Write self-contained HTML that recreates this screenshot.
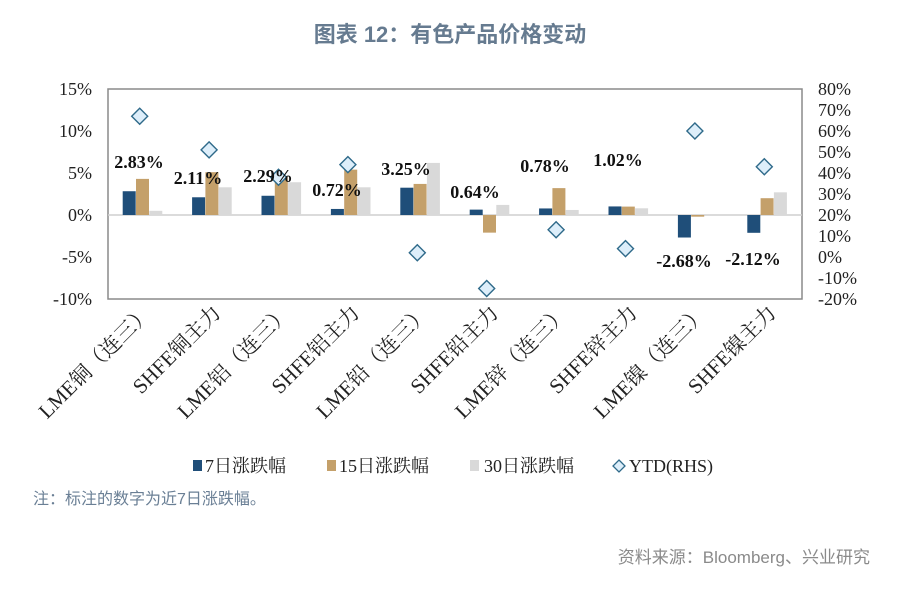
<!DOCTYPE html>
<html><head><meta charset="utf-8"><style>
body{margin:0;background:#fff;}
svg text{font-family:"Liberation Serif","Noto Serif CJK SC",serif;}
.s{font-family:"Liberation Sans","Noto Sans CJK SC",sans-serif !important;}
</style></head><body>
<svg width="900" height="586" xmlns="http://www.w3.org/2000/svg">
<text x="450" y="42" text-anchor="middle" class="s" font-size="22" font-weight="bold" fill="#667b90">图表 12：有色产品价格变动</text>
<rect x="108" y="89" width="694" height="210" fill="none" stroke="#8a8a8a" stroke-width="1.5"/>
<line x1="108" y1="215" x2="802" y2="215" stroke="#cfcfcf" stroke-width="1.5"/>
<g font-size="18" fill="#222" text-anchor="end">
<text x="92" y="95">15%</text><text x="92" y="137">10%</text><text x="92" y="179">5%</text><text x="92" y="221">0%</text><text x="92" y="263">-5%</text><text x="92" y="305">-10%</text>
</g>
<g font-size="18" fill="#222">
<text x="818" y="95">80%</text><text x="818" y="116">70%</text><text x="818" y="137">60%</text><text x="818" y="158">50%</text><text x="818" y="179">40%</text><text x="818" y="200">30%</text><text x="818" y="221">20%</text><text x="818" y="242">10%</text><text x="818" y="263">0%</text><text x="818" y="284">-10%</text><text x="818" y="305">-20%</text>
</g>
<g id="bars"></g>
<g id="dia"></g>
<g id="lbl" font-size="18" font-weight="bold" fill="#111" text-anchor="middle"></g>
<g id="cat" font-size="21" fill="#222" text-anchor="end"></g>
<g font-size="18" fill="#222">
<rect x="193" y="460" width="9" height="11" fill="#1f4e79"/><text x="205" y="472">7日涨跌幅</text>
<rect x="327" y="460" width="9" height="11" fill="#c4a06a"/><text x="339" y="472">15日涨跌幅</text>
<rect x="470" y="460" width="9" height="11" fill="#d9d9d9"/><text x="484" y="472">30日涨跌幅</text>
<path d="M619,460 L625,466 L619,472 L613,466 Z" fill="#ddeefa" stroke="#2f6a8a" stroke-width="1.3"/><text x="629" y="472">YTD(RHS)</text>
</g>
<text x="33" y="504" class="s" font-size="16" fill="#6a7f95">注：标注的数字为近7日涨跌幅。</text>
<text x="870" y="563" class="s" font-size="17" fill="#8a8a8a" text-anchor="end">资料来源：Bloomberg、兴业研究</text>
<script>
var d7=[2.83,2.11,2.29,0.72,3.25,0.64,0.78,1.02,-2.68,-2.12];
var d15=[4.3,5.1,4.5,5.4,3.7,-2.1,3.2,1.0,-0.2,2.0];
var d30=[0.5,3.3,3.9,3.3,6.2,1.2,0.6,0.8,-0.1,2.7];
var ytd=[67,51,38,44,2,-15,13,4,60,43];
var lx=[139,198,268,337,406,475,545,618,684,753],ly=[168,184,182,196,175,198,172,166,267,265];
var cats=["LME铜（连三）","SHFE铜主力","LME铝（连三）","SHFE铝主力","LME铅（连三）","SHFE铅主力","LME锌（连三）","SHFE锌主力","LME镍（连三）","SHFE镍主力"];
var cols=["#1f4e79","#c4a06a","#d9d9d9"];var ns="http://www.w3.org/2000/svg";
function el(t,a,p){var e=document.createElementNS(ns,t);for(var k in a)e.setAttribute(k,a[k]);document.getElementById(p).appendChild(e);return e;}
for(var i=0;i<10;i++){var c=108+69.4*(i+0.5);
[d7,d15,d30].forEach(function(s,j){var v=s[i]*8.4;var x=c-20+j*13.3;el("rect",{x:x,y:v>0?215-v:215,width:13,height:Math.abs(v),fill:cols[j]},"bars");});
var y=257-2.1*ytd[i];el("path",{d:"M"+(c-11)+","+y+" l8,-8 l8,8 l-8,8 Z",fill:"#ddeefa",stroke:"#2f6a8a","stroke-width":1.4},"dia");
var t=el("text",{x:lx[i],y:ly[i]},"lbl");t.textContent=(d7[i]).toFixed(2)+"%";
var q=el("text",{transform:"translate("+(c+10)+",314) rotate(-45)"},"cat");q.textContent=cats[i];}
</script>
</svg>
</body></html>
